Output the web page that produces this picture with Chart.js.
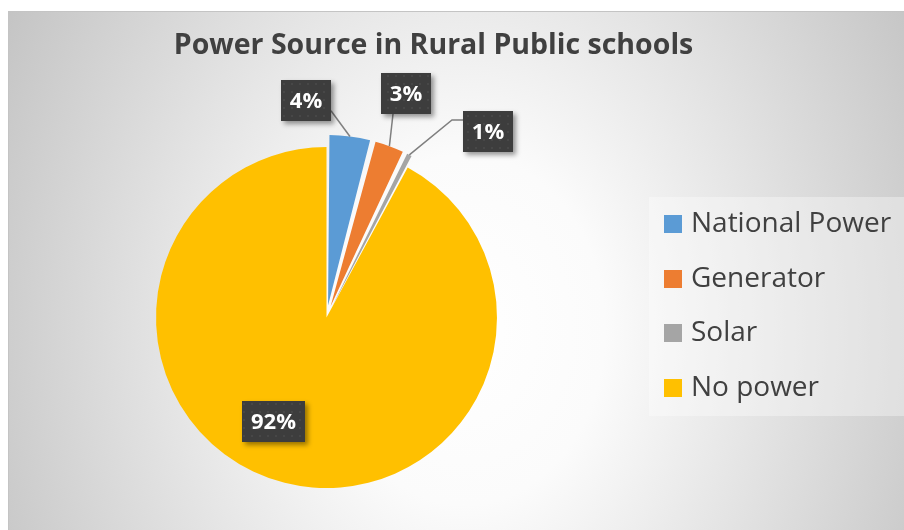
<!DOCTYPE html>
<html>
<head>
<meta charset="utf-8">
<title>Power Source in Rural Public schools</title>
<script src="https://cdn.jsdelivr.net/npm/chart.js@4.4.1/dist/chart.umd.min.js"></script>
<style>
  html, body { margin: 0; padding: 0; background: #fff; }
  canvas { display: block; }
</style>
</head>
<body>
<canvas id="powerChart" width="904" height="530"></canvas>
<script>
const chartTitle = 'Power Source in Rural Public schools';
const categories = ['National Power', 'Generator', 'Solar', 'No power'];
const shares = [4.1, 3.0, 0.8, 92.1];

const sliceColors = ['#5B9BD5', '#ED7D31', '#A5A5A5', '#FFC000'];
// chart.js shifts a slice by offset/4, so 48 -> 12px
const explode = [48, 48, 48, 0];

// data label spots: angle in deg clockwise from 12 o'clock, distance in radii
const labelSpots = [
  { angle: -5.4, dist: 1.276, attach: [1, 0.75] },
  { angle: 19.5, dist: 1.394, attach: [0.24, 1] },
  { angle: 40.9, dist: 1.447, attach: [0, 0.22], elbow: 11 },
  { angle: 207, dist: 0.685 }
];

const FONT = '"Open Sans", "DejaVu Sans", sans-serif';
const TEXT = '#404040';

const canvas = document.getElementById('powerChart');
const ctx = canvas.getContext('2d');

function dotPattern() {
  const c = document.createElement('canvas');
  c.width = 8; c.height = 8;
  const g = c.getContext('2d');
  g.fillStyle = '#3d3d3d';
  g.fillRect(0, 0, 8, 8);
  g.fillStyle = '#474747';
  g.fillRect(3, 3, 2, 2);
  return ctx.createPattern(c, 'repeat');
}
const boxFill = dotPattern();

const backdrop = {
  id: 'backdrop',
  beforeDraw(chart) {
    const c = chart.ctx, w = chart.width, h = chart.height;
    c.save();
    c.fillStyle = '#fff';
    c.fillRect(0, 0, w, h);
    c.save();
    c.beginPath();
    c.rect(8, 11, w - 8, h - 11);
    c.clip();
    c.translate(465, 330);
    c.scale(1, 1.25);
    const grad = c.createRadialGradient(0, 0, 0, 0, 0, 560);
    grad.addColorStop(0, '#ffffff');
    grad.addColorStop(0.25, '#fbfbfb');
    grad.addColorStop(1, '#bfbfbf');
    c.fillStyle = grad;
    c.fillRect(-500, -300, 1000, 600);
    c.restore();
    c.strokeStyle = '#c4c4c4';
    c.lineWidth = 1;
    c.strokeRect(8.5, 11.5, w, h);
    c.restore();
  }
};

// keep exploded slices at the same radius as the rest
const keepRadius = {
  id: 'keepRadius',
  afterDatasetUpdate(chart, args) {
    args.meta.data.forEach((arc, i) => {
      const off = (explode[i] || 0) / 4;
      const fix = 1 - Math.sin(Math.min(Math.PI, arc.circumference));
      arc.outerRadius -= off * fix;
    });
  }
};

const decorations = {
  id: 'decorations',
  afterDraw(chart) {
    const c = chart.ctx;
    const meta = chart.getDatasetMeta(0);
    const R = meta.controller.outerRadius;
    const total = shares.reduce((a, b) => a + b, 0);

    c.save();
    // title
    c.fillStyle = TEXT;
    c.font = 'bold 28.5px ' + FONT;
    c.textAlign = 'center';
    c.textBaseline = 'alphabetic';
    c.fillText(chartTitle, 433.5, 54);

    // data labels
    c.font = 'bold 22px ' + FONT;
    c.textBaseline = 'middle';
    meta.data.forEach((arc, i) => {
      const spot = labelSpots[i];
      const text = Math.round(shares[i] / total * 100) + '%';
      const a = spot.angle * Math.PI / 180;
      const cx = arc.x + Math.sin(a) * spot.dist * R;
      const cy = arc.y - Math.cos(a) * spot.dist * R;
      const bw = Math.round(c.measureText(text).width) + 18, bh = 41;
      const bx = Math.round(cx - bw / 2), by = Math.round(cy - bh / 2);

      if (spot.attach) {
        const mid = (arc.startAngle + arc.endAngle) / 2;
        const off = (explode[i] || 0) / 4;
        const ex = arc.x + Math.cos(mid) * (R + off);
        const ey = arc.y + Math.sin(mid) * (R + off);
        const ax = bx + spot.attach[0] * bw, ay = by + spot.attach[1] * bh;
        c.beginPath();
        c.moveTo(ex, ey);
        if (spot.elbow) c.lineTo(ax - spot.elbow, ay);
        c.lineTo(ax, ay);
        c.strokeStyle = '#7f7f7f';
        c.lineWidth = 1.5;
        c.stroke();
      }

      c.save();
      c.shadowColor = 'rgba(0,0,0,0.4)';
      c.shadowBlur = 5;
      c.shadowOffsetX = 3;
      c.shadowOffsetY = 3;
      c.fillStyle = boxFill;
      c.fillRect(bx, by, bw, bh);
      c.restore();

      c.fillStyle = '#fff';
      c.textAlign = 'center';
      c.fillText(text, bx + bw / 2, by + bh / 2 + 1);
    });

    // legend
    c.fillStyle = 'rgba(255,255,255,0.35)';
    c.fillRect(649, 197, 260, 219);
    c.font = '28px ' + FONT;
    c.textAlign = 'left';
    c.textBaseline = 'middle';
    categories.forEach((name, i) => {
      const y = 224 + i * 54.7;
      c.fillStyle = sliceColors[i];
      c.fillRect(664, Math.round(y - 9), 18, 18);
      c.fillStyle = TEXT;
      c.fillText(name, 691, y);
    });
    c.restore();
  }
};

new Chart(canvas, {
  type: 'pie',
  data: {
    labels: categories,
    datasets: [{
      data: shares,
      backgroundColor: sliceColors,
      borderWidth: 0,
      hoverBorderWidth: 0,
      hoverOffset: 0,
      offset: explode
    }]
  },
  options: {
    responsive: false,
    animation: false,
    events: [],
    layout: { padding: { left: 8, right: 259, top: 123, bottom: 18 } },
    plugins: {
      legend: { display: false },
      title: { display: false },
      tooltip: { enabled: false }
    }
  },
  plugins: [backdrop, keepRadius, decorations]
});
</script>
</body>
</html>
